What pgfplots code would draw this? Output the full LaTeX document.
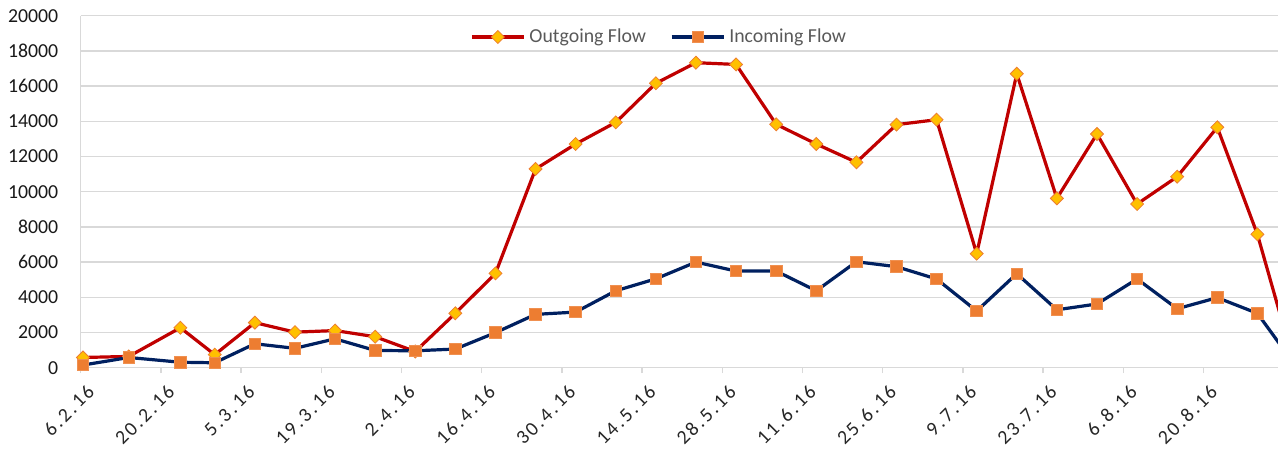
\documentclass[border=0pt]{standalone}
\usepackage{pgfplots}
\pgfplotsset{compat=1.18}
\usepackage{fontspec}
\setmainfont{Carlito}
\newcommand\ls{\kern1.2pt}
\definecolor{outred}{HTML}{C00000}
\definecolor{innavy}{HTML}{002060}
\definecolor{mgold}{HTML}{FFC000}
\definecolor{morange}{HTML}{ED7D31}
\definecolor{gridgray}{HTML}{D9D9D9}
\definecolor{txtgray}{HTML}{595959}
\begin{document}
\begin{tikzpicture}
\begin{axis}[
  scale only axis,
  width=598.65pt, height=176pt,
  xmin=0, xmax=209, ymin=0, ymax=20000,
  enlargelimits=false,
  axis lines=left,
  axis line style={draw=gridgray, line width=0.7pt, -},
  ymajorgrids,
  grid style={draw=gridgray, line width=0.7pt},
  ytick={0,2000,...,20000},
  scaled y ticks=false,
  ytick style={draw=none},
  xtick={0,14,...,196},
  xticklabels={6\ls.\ls2\ls.\ls1\ls6, 2\ls0\ls.\ls2\ls.\ls1\ls6, 5\ls.\ls3\ls.\ls1\ls6, 1\ls9\ls.\ls3\ls.\ls1\ls6, 2\ls.\ls4\ls.\ls1\ls6, 1\ls6\ls.\ls4\ls.\ls1\ls6, 3\ls0\ls.\ls4\ls.\ls1\ls6, 1\ls4\ls.\ls5\ls.\ls1\ls6, 2\ls8\ls.\ls5\ls.\ls1\ls6, 1\ls1\ls.\ls6\ls.\ls1\ls6, 2\ls5\ls.\ls6\ls.\ls1\ls6, 9\ls.\ls7\ls.\ls1\ls6, 2\ls3\ls.\ls7\ls.\ls1\ls6, 6\ls.\ls8\ls.\ls1\ls6, 2\ls0\ls.\ls8\ls.\ls1\ls6},
  xtick style={draw=gridgray, line width=0.7pt},
  tick align=outside,
  major tick length=2.7pt,
  /pgf/number format/assume math mode=true,
  /pgf/number format/set thousands separator={},
  yticklabel style={font=\fontsize{9.9}{12}\selectfont, text=black!90, xshift=-5pt},
  xticklabel style={font=\fontsize{9.9}{12}\selectfont, text=black!85, rotate=45, anchor=east, xshift=1.7pt, yshift=-9pt},
  legend style={at={(0.484,0.9395)}, anchor=center, draw=none, fill=none,
    font=\fontsize{9.9}{12}\selectfont, text=txtgray,
    /tikz/every even column/.append style={column sep=10pt}},
  legend columns=2,
  legend image code/.code={\draw[mark repeat=2,mark phase=2] plot coordinates {(0pt,0pt)(13pt,0pt)(26pt,0pt)};},
]
\addplot[color=outred, line width=1.6pt, mark=square*, mark size=2.3pt,
  mark options={solid, fill=mgold, draw=morange, line width=0.4pt, rotate=45}]
  coordinates {
  (0.4,580) (8.4,640) (17.4,2270) (23.4,740) (30.4,2560) (37.4,2020) (44.4,2110)
  (51.4,1760) (58.4,920) (65.4,3090) (72.4,5360) (79.4,11290) (86.4,12710)
  (93.4,13940) (100.4,16160) (107.4,17330) (114.4,17230) (121.4,13830)
  (128.4,12710) (135.4,11670) (142.4,13810) (149.4,14090) (156.4,6480)
  (163.4,16700) (170.4,9620) (177.4,13280) (184.4,9300) (191.4,10850)
  (198.4,13660) (205.4,7580) (211.4,700)
  };
\addlegendentry{Outgoing Flow}
\addplot[color=innavy, line width=1.6pt, mark=square*, mark size=2.9pt,
  mark options={solid, fill=morange, draw=morange!85!white, line width=0.4pt}]
  coordinates {
  (0.4,150) (8.4,580) (17.4,310) (23.4,280) (30.4,1360) (37.4,1100) (44.4,1640)
  (51.4,980) (58.4,960) (65.4,1060) (72.4,1990) (79.4,3030) (86.4,3160)
  (93.4,4370) (100.4,5050) (107.4,6000) (114.4,5490) (121.4,5490)
  (128.4,4370) (135.4,6020) (142.4,5740) (149.4,5040) (156.4,3220)
  (163.4,5340) (170.4,3290) (177.4,3620) (184.4,5040) (191.4,3350)
  (198.4,3980) (205.4,3090) (211.4,400)
  };
\addlegendentry{Incoming Flow}
\end{axis}
\pgfresetboundingbox
\path[use as bounding box] ([xshift=-40.35pt,yshift=-43.15pt]current axis.south west) rectangle ([yshift=7.85pt]current axis.north east);
\end{tikzpicture}
\end{document}
